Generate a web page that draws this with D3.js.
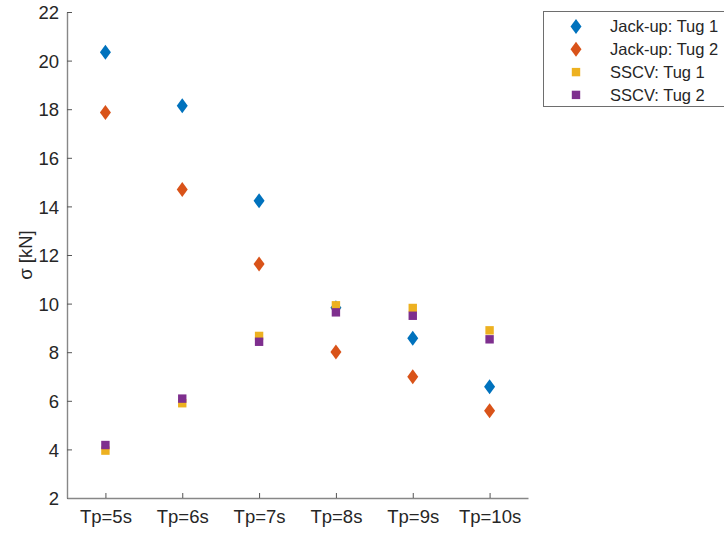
<!DOCTYPE html>
<html>
<head>
<meta charset="utf-8">
<script src="https://cdn.jsdelivr.net/npm/d3@7"></script>
<style>
  body { margin: 0; background: #fff; }
  svg { display: block; font-family: "Liberation Sans", Arial, Helvetica, sans-serif; }
</style>
</head>
<body>
<svg id="chart" width="724" height="533"></svg>
<script>
const categories = ["Tp=5s", "Tp=6s", "Tp=7s", "Tp=8s", "Tp=9s", "Tp=10s"];
const jackupTug1 = [20.34, 18.14, 14.23, 9.83, 8.57, 6.58];
const jackupTug2 = [17.86, 14.70, 11.63, 8.01, 6.99, 5.59];
const sscvTug1 = [3.95, 5.90, 8.67, 9.93, 9.82, 8.90];
const sscvTug2 = [4.18, 6.09, 8.43, 9.64, 9.50, 8.53];
const yTicks = [2, 4, 6, 8, 10, 12, 14, 16, 18, 20, 22];
const seriesNames = ["Jack-up: Tug 1", "Jack-up: Tug 2", "SSCV: Tug 1", "SSCV: Tug 2"];
const seriesColors = ["#0072BD", "#D95319", "#EDB120", "#7E2F8E"];
const seriesShapes = ["diamond", "diamond", "square", "square"];

(function () {
const series = [jackupTug1, jackupTug2, sscvTug1, sscvTug2].map((vals, i) => ({
  name: seriesNames[i], color: seriesColors[i], shape: seriesShapes[i], values: vals
}));

const svg = d3.select("#chart");
const mLeft = 67, mRight = 528, mTop = 12, mBottom = 498;

const x = d3.scaleLinear().domain([0.5, categories.length + 0.5]).range([mLeft, mRight]);
const y = d3.scaleLinear().domain([2, 22]).range([mBottom, mTop]);

const axisColor = "#878787";
const textColor = "#262626";

function drawMarker(g, shape, color) {
  if (shape === "diamond") {
    g.append("path").attr("d", "M0,-7.5 L5.5,0 L0,7.5 L-5.5,0 Z").attr("fill", color);
  } else {
    g.append("rect").attr("x", -4.2).attr("y", -4.2).attr("width", 8.4).attr("height", 8.4).attr("fill", color);
  }
}

const plot = svg.append("g");
series.forEach(s => {
  s.values.forEach((v, j) => {
    const g = plot.append("g").attr("transform", `translate(${x(j + 1)},${y(v)})`);
    drawMarker(g, s.shape, s.color);
  });
});

const yAxis = d3.axisLeft(y).tickValues(yTicks).tickSizeInner(-5).tickSizeOuter(0).tickPadding(8);
const gy = svg.append("g").attr("transform", `translate(${mLeft},0)`).call(yAxis);
const xAxis = d3.axisBottom(x).tickValues(d3.range(1, categories.length + 1))
  .tickFormat(d => categories[d - 1]).tickSizeInner(-5).tickSizeOuter(0).tickPadding(12);
const gx = svg.append("g").attr("transform", `translate(0,${mBottom})`).call(xAxis);

[gx, gy].forEach(g => {
  g.select(".domain").attr("stroke", axisColor).attr("stroke-width", 1.4);
  g.selectAll(".tick line").attr("stroke", "#555").attr("stroke-width", 1);
  g.selectAll(".tick text").attr("fill", textColor).style("font-size", "18.5px")
    .style("font-family", '"Liberation Sans", Arial, sans-serif');
});
gy.selectAll(".tick text").attr("dy", "0.36em");
gx.selectAll(".tick text").attr("dy", "0.71em");

svg.append("text")
  .attr("transform", `translate(32,${(mTop + mBottom) / 2}) rotate(-90)`)
  .attr("text-anchor", "middle")
  .attr("fill", textColor)
  .style("font-size", "18.5px")
  .text("σ [kN]");

const legend = svg.append("g");
legend.append("rect").attr("x", 543.5).attr("y", 11.5).attr("width", 200).attr("height", 95)
  .attr("fill", "#fff").attr("stroke", "#6e6e6e").attr("stroke-width", 1);
series.forEach((s, i) => {
  const cy = 26.5 + i * 22.8;
  const g = legend.append("g").attr("transform", `translate(576,${cy})`);
  drawMarker(g, s.shape, s.color);
  legend.append("text").attr("x", 610).attr("y", cy).attr("dy", "0.36em")
    .attr("fill", textColor).style("font-size", "16.5px").text(s.name);
});
})();
</script>
</body>
</html>
